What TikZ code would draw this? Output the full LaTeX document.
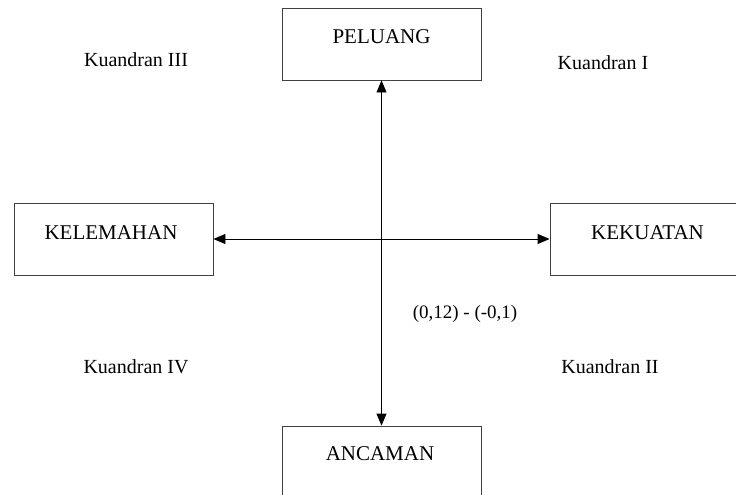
\documentclass[tikz,border=0pt]{standalone}
\usepackage{fontspec}
\setmainfont{Liberation Serif}
\usetikzlibrary{arrows.meta}
\begin{document}
\begin{tikzpicture}[x=1pt,y=1pt,
  box/.style={draw=black!75,line width=0.9pt,minimum width=199pt,minimum height=72pt,inner sep=0pt},
  lbl/.style={font=\fontsize{20}{24}\selectfont,inner sep=0pt},
  val/.style={font=\fontsize{19}{22}\selectfont,inner sep=0pt},
  ttl/.style={font=\fontsize{21}{25}\selectfont,inner sep=0pt},
  axis/.style={line width=0.9pt,{Triangle[width=10pt,length=12pt]}-{Triangle[width=10pt,length=12pt]}}]
\useasboundingbox (0,0) rectangle (736,-495);
\clip (0,0) rectangle (736,-495);
\node[box] (pel) at (381.5,-44) {};
\node[box] (kel) at (113.5,-239) {};
\node[box] (kek) at (649.5,-239.5) {};
\node[box] (anc) at (381.5,-462) {};
\node[ttl] (tpel) at (381.5,-37) {PELUANG};
\node[ttl] (tkel) at (111,-233) {KELEMAHAN};
\node[ttl] (tkek) at (647.5,-233) {KEKUATAN};
\node[ttl] (tanc) at (380,-454) {ANCAMAN};
\draw[axis] (pel.south) -- (anc.north);
\draw[axis] (kel.east) -- (kek.west |- kel.east);
\node[lbl] (q3) at (136,-60) {Kuandran III};
\node[lbl] (q1) at (603,-63) {Kuandran I};
\node[lbl] (q4) at (136,-367) {Kuandran IV};
\node[lbl] (q2) at (610,-367) {Kuandran II};
\node[val] (v) at (465,-314) {(0,12) - (-0,1)};
\end{tikzpicture}
\end{document}
